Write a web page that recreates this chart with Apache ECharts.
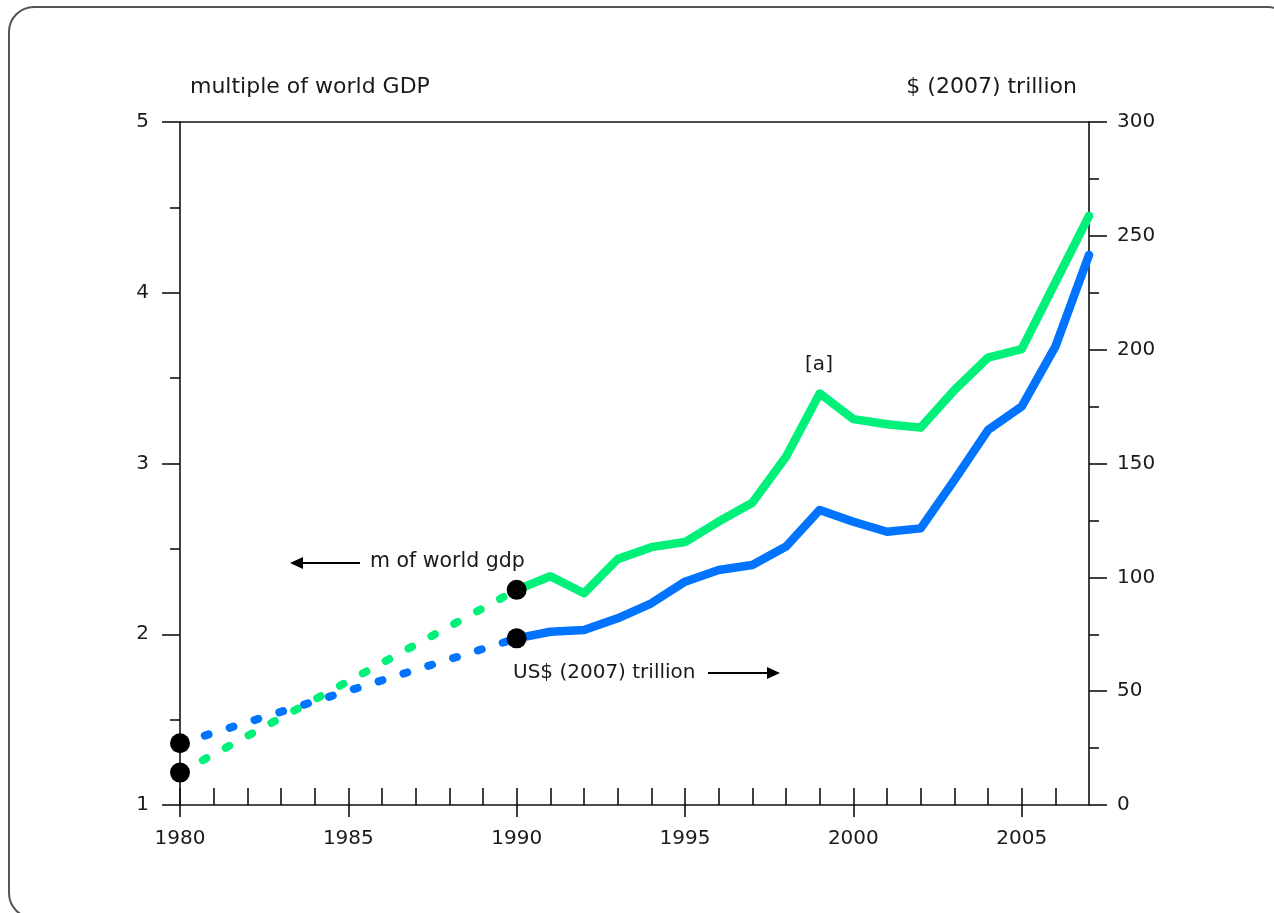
<!DOCTYPE html>
<html>
<head>
<meta charset="utf-8">
<title>Multiple of world GDP</title>
<script src="https://cdn.jsdelivr.net/npm/echarts@6.0.0/dist/echarts.min.js"></script>
<style>
  html, body { margin: 0; padding: 0; background: #fff; }
  #chart { width: 1274px; height: 913px; }
</style>
</head>
<body>
<div id="chart"></div>
<script>
// solid part, 1990-2007
const years = [1990, 1991, 1992, 1993, 1994, 1995, 1996, 1997, 1998, 1999, 2000, 2001, 2002, 2003, 2004, 2005, 2006, 2007];
const multipleOfGdp = [2.26, 2.34, 2.24, 2.44, 2.51, 2.54, 2.66, 2.77, 3.04, 3.41, 3.26, 3.23, 3.21, 3.43, 3.62, 3.67, 4.06, 4.45];
const usdTrillion = [73.2, 76.1, 76.9, 82.0, 88.6, 98.1, 103.2, 105.4, 113.5, 129.6, 124.4, 120.0, 121.5, 142.7, 164.7, 175.0, 201.3, 241.6];

// dotted part, 1980-1990 (only the end points are known)
const earlyYears = [1980, 1990];
const earlyMultiple = [1.19, 2.26];
const earlyUsd = [27.1, 73.2];

// tick labels / positions
const majorYears = [1980, 1985, 1990, 1995, 2000, 2005];
const allYears = [1980, 1981, 1982, 1983, 1984, 1985, 1986, 1987, 1988, 1989, 1990, 1991, 1992, 1993,
  1994, 1995, 1996, 1997, 1998, 1999, 2000, 2001, 2002, 2003, 2004, 2005, 2006];

const green = '#00f07a';
const blue = '#0073ff';
const ink = '#1a1a1a';
const font = 'DejaVu Sans';

const pair = (xs, ys) => xs.map((x, i) => [x, ys[i]]);

const axisLine = { show: true, lineStyle: { color: '#111', width: 1.6 } };
const tickLine = { color: '#111', width: 1.6 };
const labelStyle = { color: ink, fontFamily: font, fontSize: 20 };

const chart = echarts.init(document.getElementById('chart'));

chart.setOption({
  animation: false,
  backgroundColor: '#fff',
  grid: { left: 180, right: 185, top: 122, bottom: 108, outerBoundsMode: 'none' },
  xAxis: [
    {
      type: 'value', min: 1980, max: 2007, interval: 5, position: 'bottom',
      axisLine: axisLine,
      axisTick: { show: true, inside: false, length: 12, customValues: majorYears, lineStyle: tickLine },
      axisLabel: Object.assign({ margin: 24, customValues: majorYears, formatter: v => String(v) }, labelStyle),
      splitLine: { show: false }
    },
    {
      type: 'value', min: 1980, max: 2007, interval: 1, position: 'bottom',
      axisLine: { show: false },
      axisTick: { show: true, inside: true, length: 17, customValues: allYears, lineStyle: tickLine },
      axisLabel: { show: false },
      splitLine: { show: false }
    },
    {
      type: 'value', min: 1980, max: 2007, position: 'top',
      axisLine: axisLine,
      axisTick: { show: false },
      axisLabel: { show: false },
      splitLine: { show: false }
    }
  ],
  yAxis: [
    {
      type: 'value', min: 1, max: 5, interval: 1, position: 'left',
      axisLine: axisLine,
      axisTick: { show: true, inside: false, length: 18, lineStyle: tickLine },
      minorTick: { show: true, splitNumber: 2, length: 10, lineStyle: tickLine },
      axisLabel: Object.assign({ margin: 31 }, labelStyle),
      splitLine: { show: false }
    },
    {
      type: 'value', min: 0, max: 300, interval: 50, position: 'right',
      axisLine: axisLine,
      axisTick: { show: true, inside: false, length: 18, lineStyle: tickLine },
      minorTick: { show: true, splitNumber: 2, length: 10, lineStyle: tickLine },
      axisLabel: Object.assign({ margin: 28 }, labelStyle),
      splitLine: { show: false }
    }
  ],
  series: [
    {
      name: 'US$ early', type: 'line', xAxisIndex: 0, yAxisIndex: 1, clip: false,
      symbol: 'none', data: pair(earlyYears, earlyUsd),
      lineStyle: { color: blue, width: 8, type: [4, 22], cap: 'round' }
    },
    {
      name: 'multiple early', type: 'line', xAxisIndex: 0, yAxisIndex: 0, clip: false,
      symbol: 'none', data: pair(earlyYears, earlyMultiple),
      lineStyle: { color: green, width: 8, type: [4, 22], cap: 'round' }
    },
    {
      name: 'US$ (2007) trillion', type: 'line', xAxisIndex: 0, yAxisIndex: 1, clip: false,
      symbol: 'none', data: pair(years, usdTrillion),
      lineStyle: { color: blue, width: 8.5, cap: 'round', join: 'round' }
    },
    {
      name: 'multiple of world GDP', type: 'line', xAxisIndex: 0, yAxisIndex: 0, clip: false,
      symbol: 'none', data: pair(years, multipleOfGdp),
      lineStyle: { color: green, width: 8.5, cap: 'round', join: 'round' }
    },
    {
      type: 'scatter', xAxisIndex: 0, yAxisIndex: 0, clip: false, z: 10,
      symbolSize: 20, itemStyle: { color: '#000', opacity: 1 },
      data: pair(earlyYears, earlyMultiple)
    },
    {
      type: 'scatter', xAxisIndex: 0, yAxisIndex: 1, clip: false, z: 10,
      symbolSize: 20, itemStyle: { color: '#000', opacity: 1 },
      data: pair(earlyYears, earlyUsd)
    }
  ],
  graphic: [
    {
      type: 'rect', z: -1,
      shape: { x: 9, y: 7, width: 1284, height: 911, r: 25 },
      style: { fill: 'none', stroke: '#555', lineWidth: 2 }
    },
    {
      type: 'text', x: 190, y: 87,
      style: { text: 'multiple of world GDP', fill: ink, font: '22px "DejaVu Sans"', verticalAlign: 'middle' }
    },
    {
      type: 'text', x: 1077, y: 87,
      style: { text: '$ (2007) trillion', fill: ink, font: '22px "DejaVu Sans"', align: 'right', verticalAlign: 'middle' }
    },
    // left-pointing arrow and label for the green series
    {
      type: 'line', shape: { x1: 298, y1: 563, x2: 360, y2: 563 },
      style: { stroke: '#000', lineWidth: 2 }
    },
    {
      type: 'polygon', shape: { points: [[290, 563], [303, 557], [303, 569]] },
      style: { fill: '#000' }
    },
    {
      type: 'text', x: 370, y: 562,
      style: { text: 'm of world gdp', fill: ink, font: '20.5px "DejaVu Sans"', verticalAlign: 'middle' }
    },
    // label and right-pointing arrow for the blue series
    {
      type: 'text', x: 513, y: 673,
      style: { text: 'US$ (2007) trillion', fill: ink, font: '20px "DejaVu Sans"', verticalAlign: 'middle' }
    },
    {
      type: 'line', shape: { x1: 708, y1: 673, x2: 772, y2: 673 },
      style: { stroke: '#000', lineWidth: 2 }
    },
    {
      type: 'polygon', shape: { points: [[780, 673], [767, 667], [767, 679]] },
      style: { fill: '#000' }
    },
    {
      type: 'text', x: 819, y: 365,
      style: { text: '[a]', fill: ink, font: '20px "DejaVu Sans"', align: 'center', verticalAlign: 'middle' }
    }
  ]
});

window.addEventListener('resize', chart.resize);
</script>
</body>
</html>
